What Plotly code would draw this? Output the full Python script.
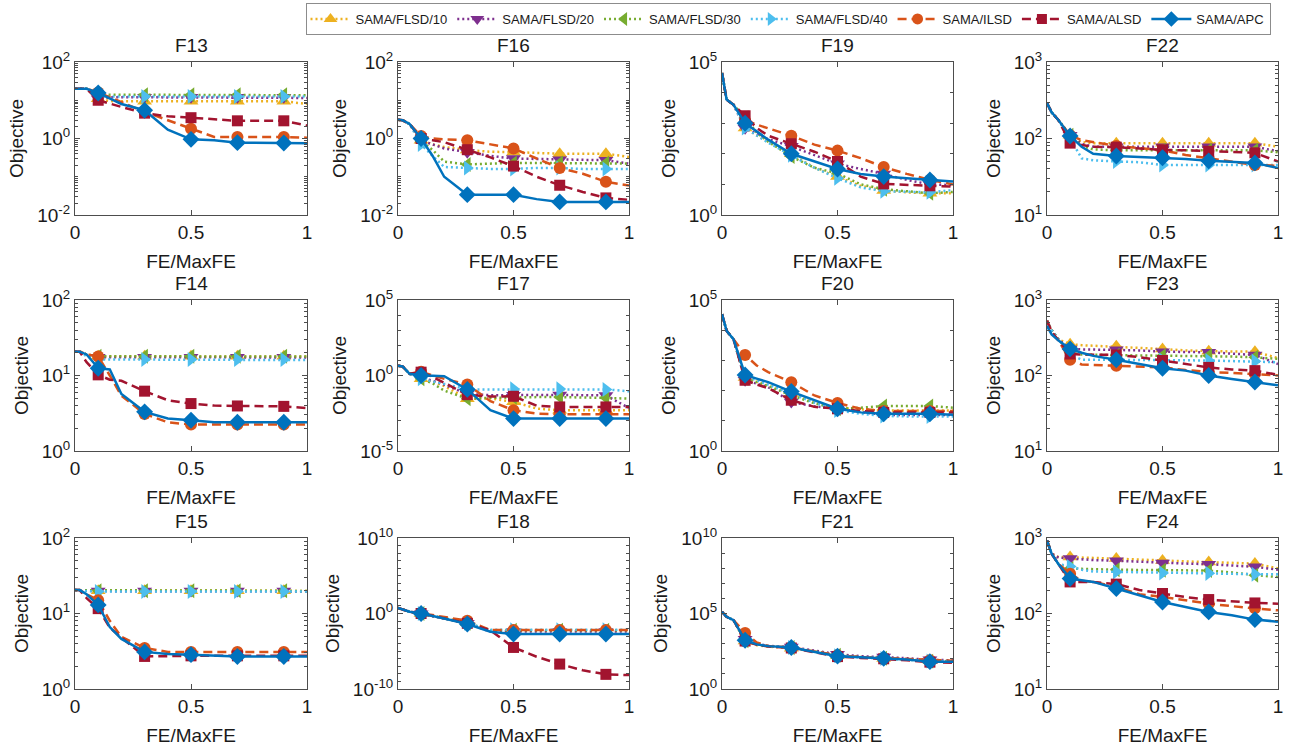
import plotly.graph_objects as go
from plotly.subplots import make_subplots

# ---------------- data ----------------
X = [0, 0.02, 0.05, 0.1, 0.15, 0.2, 0.3, 0.4, 0.5, 0.6, 0.7, 0.8, 0.9, 1.0]
MARKER_X = [0.1, 0.3, 0.5, 0.7, 0.9]

SERIES = ["SAMA/FLSD/10", "SAMA/FLSD/20", "SAMA/FLSD/30", "SAMA/FLSD/40",
          "SAMA/ILSD", "SAMA/ALSD", "SAMA/APC"]
KEYS = ["f10", "f20", "f30", "f40", "ilsd", "alsd", "apc"]

F13 = dict(
    f10=[20, 20, 20, 11, 9.5, 9.4, 9.4, 9.4, 9.4, 9.4, 9.4, 9.4, 9.4, 8],
    f20=[20, 20, 20, 11, 12, 12, 12, 12, 12, 12, 12, 12, 12, 11.5],
    f30=[20, 20, 20, 14, 14, 14, 14, 14, 14, 14, 14, 14, 14, 13.5],
    f40=[20, 20, 20, 12.5, 12.5, 12.5, 12.5, 12.5, 12.5, 12.5, 12.5, 12.5, 12.5, 12.5],
    ilsd=[20, 20, 20, 16, 12, 9, 5, 3, 1.8, 1.1, 1.1, 1.1, 1.1, 1.05],
    alsd=[20, 20, 20, 10, 8, 6.7, 4.6, 3.8, 3.5, 3.2, 2.9, 2.9, 2.9, 2.2],
    apc=[20, 20, 20, 15.5, 11, 8, 5.5, 1.7, 0.95, 0.9, 0.78, 0.78, 0.76, 0.75],
)
F16 = dict(
    f10=[3.1, 3.0, 2.4, 0.9, 0.7, 0.6, 0.5, 0.45, 0.44, 0.42, 0.4, 0.4, 0.4, 0.33],
    f20=[3.1, 3.0, 2.4, 0.9, 0.7, 0.55, 0.44, 0.35, 0.3, 0.29, 0.28, 0.27, 0.27, 0.22],
    f30=[3.1, 3.0, 2.4, 0.85, 0.5, 0.25, 0.21, 0.22, 0.23, 0.23, 0.23, 0.23, 0.23, 0.22],
    f40=[3.1, 3.0, 2.4, 0.7, 0.35, 0.18, 0.17, 0.16, 0.16, 0.17, 0.17, 0.16, 0.16, 0.16],
    ilsd=[3.1, 3.0, 2.4, 1.16, 1.0, 0.95, 0.9, 0.7, 0.55, 0.3, 0.17, 0.12, 0.074, 0.059],
    alsd=[3.1, 3.0, 2.4, 1.0, 0.9, 0.8, 0.51, 0.32, 0.19, 0.1, 0.06, 0.04, 0.028, 0.025],
    apc=[3.1, 3.0, 2.4, 1.0, 0.35, 0.1, 0.034, 0.034, 0.034, 0.026, 0.022, 0.022, 0.022, 0.022],
)
F19 = dict(
    f10=[4.4e4, 5.9e3, 4e3, 700, 400, 250, 100, 35, 18, 9, 6.3, 5.5, 5.1, 5.1],
    f20=[4.4e4, 5.9e3, 4e3, 690, 450, 300, 175, 90, 47, 32, 22, 14, 10, 9.5],
    f30=[4.4e4, 5.9e3, 4e3, 1500, 500, 250, 81, 35, 23, 10, 7, 6, 5.1, 5.7],
    f40=[4.4e4, 5.9e3, 4e3, 700, 400, 230, 90, 35, 16, 8, 6, 5.8, 5.5, 6.5],
    ilsd=[4.4e4, 5.9e3, 4e3, 1230, 900, 690, 390, 200, 127, 72, 37, 22, 14, 10],
    alsd=[4.4e4, 5.9e3, 4e3, 1750, 700, 390, 213, 117, 56, 18, 10.4, 9.5, 9, 8.5],
    apc=[4.4e4, 5.9e3, 4e3, 1000, 540, 290, 100, 56, 32, 22, 18, 16, 14, 12.4],
)
F22 = dict(
    f10=[290, 220, 173, 110, 90, 87, 87, 87, 87, 87, 87, 87, 87, 78],
    f20=[290, 220, 173, 110, 85, 78, 78, 78, 78, 78, 78, 78, 78, 68],
    f30=[290, 220, 173, 110, 80, 72, 70, 70, 70, 70, 70, 70, 70, 66],
    f40=[290, 220, 173, 100, 55, 52, 50, 49, 45, 45, 45, 45, 45, 45],
    ilsd=[290, 220, 173, 110, 95, 90, 80, 75, 70, 61, 55, 50, 45, 44],
    alsd=[290, 220, 173, 87, 82, 78, 77, 74, 71, 70, 68, 66, 65, 50],
    apc=[290, 220, 173, 108, 78, 63, 59, 57, 56, 54, 51, 49, 48, 41],
)
F14 = dict(
    f10=[20.7, 20.7, 19, 18, 18, 18, 18, 18, 18, 18, 18, 18, 18, 17.8],
    f20=[20.7, 20.7, 19, 17.5, 17.5, 17.5, 17.5, 17.5, 17.5, 17.5, 17.5, 17.5, 17.5, 17.3],
    f30=[20.7, 20.7, 19, 18, 18, 18, 18, 18, 18, 18, 18, 18, 18, 17.8],
    f40=[20.7, 20.7, 18, 16.3, 16.3, 16.3, 16.3, 16.3, 16.3, 16.3, 16.3, 16.3, 16.3, 16],
    ilsd=[20.7, 20.7, 19, 17.9, 10, 5.4, 3.1, 2.4, 2.24, 2.24, 2.24, 2.24, 2.24, 2.24],
    alsd=[20.7, 20.7, 15, 10.2, 8.8, 8.5, 6.2, 4.7, 4.25, 4.0, 3.95, 3.9, 3.9, 3.7],
    apc=[20.7, 20.7, 19, 12.5, 12, 5.7, 3.3, 2.7, 2.55, 2.4, 2.4, 2.4, 2.4, 2.4],
)
F17 = dict(
    f10=[4.5, 4.0, 1.3, 0.6, 0.4, 0.2, 0.029, 0.03, 0.018, 6.5e-3, 5e-3, 5e-3, 5e-3, 5e-3],
    f20=[4.5, 4.0, 1.3, 0.7, 0.45, 0.25, 0.06, 0.05, 0.05, 0.052, 0.052, 0.05, 0.048, 7e-3],
    f30=[4.5, 4.0, 1.3, 0.6, 0.3, 0.1, 0.029, 0.033, 0.037, 0.037, 0.037, 0.037, 0.033, 0.029],
    f40=[4.5, 4.0, 1.3, 0.6, 0.4, 0.28, 0.12, 0.12, 0.13, 0.13, 0.13, 0.13, 0.12, 0.09],
    ilsd=[4.5, 4.0, 1.3, 1.8, 1.0, 0.6, 0.25, 0.02, 5e-3, 3e-3, 2.7e-3, 2.7e-3, 2.7e-3, 2.7e-3],
    alsd=[4.5, 4.0, 1.3, 1.66, 0.8, 0.33, 0.054, 0.04, 0.042, 0.01, 8.3e-3, 8.3e-3, 8.3e-3, 8.3e-3],
    apc=[4.5, 4.0, 1.3, 1.0, 0.95, 0.9, 0.12, 5e-3, 1.4e-3, 1.4e-3, 1.4e-3, 1.4e-3, 1.4e-3, 1.4e-3],
)
F20 = dict(
    f10=[3.4e4, 9.5e3, 5e3, 270, 200, 150, 80, 40, 27, 24, 22, 22, 22, 22],
    f20=[3.4e4, 9.5e3, 5e3, 220, 170, 130, 42, 30, 25, 20, 15.5, 15.5, 15.5, 15.5],
    f30=[3.4e4, 9.5e3, 5e3, 250, 190, 140, 70, 38, 25, 27, 31, 31, 31, 27],
    f40=[3.4e4, 9.5e3, 5e3, 300, 220, 160, 80, 40, 22, 17, 14.5, 14, 14, 14],
    ilsd=[3.4e4, 9.5e3, 5e3, 1500, 680, 410, 190, 69, 39, 25, 21, 21, 21, 21],
    alsd=[3.4e4, 9.5e3, 5e3, 220, 160, 120, 48, 29, 25, 21, 19, 19, 19, 19],
    apc=[3.4e4, 9.5e3, 5e3, 330, 250, 190, 93, 48, 25, 19, 17, 17, 17, 16],
)
F23 = dict(
    f10=[530, 400, 300, 260, 252, 248, 244, 236, 224, 215, 210, 208, 207, 170],
    f20=[530, 400, 300, 225, 222, 220, 220, 215, 207, 205, 203, 195, 187, 142],
    f30=[530, 400, 300, 200, 190, 188, 186, 184, 183, 182, 182, 178, 174, 166],
    f40=[530, 400, 300, 190, 162, 162, 162, 161, 160, 159, 158, 156, 155, 150],
    ilsd=[530, 380, 290, 162, 140, 138, 135, 132, 128, 118, 111, 108, 105, 100],
    alsd=[530, 380, 290, 193, 190, 188, 187, 175, 158, 140, 128, 120, 116, 102],
    apc=[455, 350, 290, 225, 200, 182, 162, 142, 125, 116, 100, 90, 82, 74],
)
F15 = dict(
    f10=[20.4, 20.4, 20, 20, 20, 20, 20, 20, 20, 20, 20, 20, 20, 19.8],
    f20=[20.4, 20.4, 20, 19.8, 19.8, 19.8, 19.8, 19.8, 19.8, 19.8, 19.8, 19.8, 19.8, 19.6],
    f30=[20.4, 20.4, 20, 20, 20, 20, 20, 20, 20, 20, 20, 20, 20, 19.8],
    f40=[20.4, 20.4, 19.8, 19.5, 19.5, 19.5, 19.5, 19.5, 19.5, 19.5, 19.5, 19.5, 19.5, 19.5],
    ilsd=[20.4, 20.4, 18, 15, 8, 4.9, 3.5, 3.1, 3.1, 3.1, 3.1, 3.1, 3.1, 3.1],
    alsd=[20.4, 20.4, 16, 11.6, 6.5, 4.8, 2.7, 2.75, 2.75, 2.75, 2.75, 2.75, 2.75, 2.75],
    apc=[20.4, 20.4, 18, 13, 6.6, 4.6, 3.1, 2.9, 2.85, 2.75, 2.7, 2.7, 2.7, 2.7],
)
F18 = dict(
    f10=[5.6, 3.5, 1.7, 1.0, 0.5, 0.22, 0.06, 5e-3, 5e-3, 5e-3, 5e-3, 5e-3, 5e-3, 5e-3],
    f20=[5.6, 3.5, 1.7, 0.9, 0.45, 0.2, 0.05, 4e-3, 4e-3, 4e-3, 4e-3, 4e-3, 4e-3, 4e-3],
    f30=[5.6, 3.5, 1.7, 1.0, 0.5, 0.22, 0.05, 6e-3, 6e-3, 6e-3, 6e-3, 6e-3, 6e-3, 6e-3],
    f40=[5.6, 3.5, 1.7, 1.0, 0.5, 0.2, 0.05, 7e-3, 7e-3, 7e-3, 7e-3, 7e-3, 7e-3, 7e-3],
    ilsd=[5.6, 3.5, 1.7, 1.1, 0.6, 0.3, 0.11, 6.3e-3, 6.3e-3, 6.3e-3, 6.3e-3, 6.3e-3, 6.3e-3, 6.3e-3],
    alsd=[5.6, 3.5, 1.7, 1.0, 0.5, 0.22, 0.05, 6e-3, 3.2e-5, 1.9e-6, 2e-7, 3e-8, 8.7e-9, 7e-9],
    apc=[5.6, 3.5, 1.7, 1.0, 0.5, 0.22, 0.04, 3.8e-3, 1.9e-3, 1.9e-3, 1.9e-3, 1.9e-3, 1.9e-3, 1.9e-3],
)
F21 = dict(
    f10=[1.3e5, 6e4, 3.6e4, 1.5e3, 800, 650, 500, 300, 160, 130, 105, 90, 75, 70],
    f20=[1.3e5, 6e4, 3.6e4, 2e3, 1e3, 720, 600, 330, 200, 150, 130, 110, 85, 80],
    f30=[1.3e5, 6e4, 3.6e4, 1.6e3, 900, 680, 550, 300, 170, 130, 110, 90, 70, 68],
    f40=[1.3e5, 6e4, 3.6e4, 1.8e3, 950, 700, 560, 300, 160, 125, 105, 88, 72, 70],
    ilsd=[1.3e5, 6e4, 3.6e4, 5.2e3, 1.2e3, 700, 560, 320, 170, 130, 110, 95, 80, 75],
    alsd=[1.3e5, 6e4, 3.6e4, 1.5e3, 850, 650, 520, 270, 140, 115, 100, 80, 60, 55],
    apc=[1.3e5, 6e4, 3.6e4, 1.7e3, 900, 690, 560, 290, 150, 125, 107, 90, 65, 65],
)
F24 = dict(
    f10=[930, 620, 560, 560, 550, 545, 535, 520, 505, 490, 480, 470, 458, 395],
    f20=[930, 620, 550, 535, 520, 510, 500, 485, 467, 458, 450, 430, 415, 380],
    f30=[930, 620, 450, 395, 390, 385, 380, 378, 375, 372, 370, 350, 322, 305],
    f40=[930, 620, 450, 420, 380, 360, 356, 350, 345, 342, 340, 335, 330, 330],
    ilsd=[930, 620, 450, 337, 270, 262, 225, 180, 166, 150, 135, 125, 117, 110],
    alsd=[930, 620, 450, 262, 262, 262, 245, 205, 184, 165, 153, 145, 138, 135],
    apc=[930, 620, 450, 290, 275, 262, 214, 175, 142, 122, 105, 95, 83, 78],
)

# panel order (rows x cols) and y-axis labelled decades
PANELS = [["F13", "F16", "F19", "F22"],
          ["F14", "F17", "F20", "F23"],
          ["F15", "F18", "F21", "F24"]]
DATA = {"F13": F13, "F16": F16, "F19": F19, "F22": F22,
        "F14": F14, "F17": F17, "F20": F20, "F23": F23,
        "F15": F15, "F18": F18, "F21": F21, "F24": F24}
Y_DECADES = {"F13": [-2, 0, 2], "F16": [-2, 0, 2], "F19": [0, 5], "F22": [1, 2, 3],
             "F14": [0, 1, 2], "F17": [-5, 0, 5], "F20": [0, 5], "F23": [1, 2, 3],
             "F15": [0, 1, 2], "F18": [-10, 0, 10], "F21": [0, 5, 10], "F24": [1, 2, 3]}
X_TICKS = [0, 0.5, 1]
X_TICKTEXT = ["0", "0.5", "1"]

# ---------------- style ----------------
COLORS = ["#EDB120", "#7E2F8E", "#77AC30", "#4DBEEE", "#D95319", "#A2142F", "#0072BD"]
DASHES = ["2px,3px", "2px,3px", "2px,3px", "2px,3px", "9px,5px", "9px,5px", "solid"]
SYMBOLS = ["triangle-up", "triangle-down", "triangle-left", "triangle-right",
           "circle", "square", "diamond"]
MSIZE = [13, 13, 13, 13, 12, 11, 13]
LW = 2.5

W, H = 1291, 750
COL_PX = [(75, 307), (398, 629), (722, 953), (1047, 1278)]
ROW_PX = [(62, 215), (300, 451), (538, 689)]
FONT = "Liberation Sans, Arial, sans-serif"
AX_COLOR = "#4d4d4d"
TXT = "#1a1a1a"
FS = 19

fig = make_subplots(rows=3, cols=4)

marker_idx = [X.index(m) for m in MARKER_X]

for r in range(3):
    for c in range(4):
        name = PANELS[r][c]
        d = DATA[name]
        for k, key in enumerate(KEYS):
            sizes = [MSIZE[k] if i in marker_idx else 0 for i in range(len(X))]
            fig.add_trace(go.Scatter(
                x=X, y=d[key], mode="lines+markers", name=SERIES[k],
                legendgroup=SERIES[k], showlegend=False,
                line=dict(color=COLORS[k], width=LW, dash=DASHES[k]),
                marker=dict(symbol=SYMBOLS[k], size=sizes, color=COLORS[k],
                            opacity=1, line=dict(width=0)),
                hoverinfo="skip"), row=r + 1, col=c + 1)

# legend entries
for k in range(len(KEYS)):
    fig.add_trace(go.Scatter(
        x=[None], y=[None], mode="lines+markers", name=SERIES[k],
        legendgroup=SERIES[k], showlegend=True,
        line=dict(color=COLORS[k], width=LW, dash=DASHES[k]),
        marker=dict(symbol=SYMBOLS[k], size=MSIZE[k] - 1, color=COLORS[k],
                    opacity=1, line=dict(width=0))),
        row=1, col=1)

annotations = []
for r in range(3):
    for c in range(4):
        name = PANELS[r][c]
        x0, x1 = COL_PX[c]
        y0, y1 = ROW_PX[r]
        xd = [x0 / W, x1 / W]
        yd = [1 - y1 / H, 1 - y0 / H]
        dec = Y_DECADES[name]
        lo, hi = dec[0], dec[-1]
        span = hi - lo
        minor = []
        for e in range(lo, hi + 1):
            if span <= 4:
                if e not in dec:
                    minor.append(10.0 ** e)
                if e < hi:
                    minor += [m * 10.0 ** e for m in range(2, 10)]
            else:
                if e not in dec:
                    minor.append(10.0 ** e)
        fig.update_xaxes(
            row=r + 1, col=c + 1, domain=xd, range=[0, 1], automargin=False,
            tickmode="array", tickvals=X_TICKS, ticktext=X_TICKTEXT,
            ticks="inside", ticklen=5, tickcolor=AX_COLOR,
            showline=True, linecolor=AX_COLOR, linewidth=1, mirror="ticks",
            showgrid=False, zeroline=False,
            tickfont=dict(family=FONT, size=FS, color=TXT),
            title=dict(text="FE/MaxFE", font=dict(family=FONT, size=FS, color=TXT), standoff=12),
        )
        fig.update_yaxes(
            row=r + 1, col=c + 1, domain=yd, type="log", range=[lo, hi], automargin=False,
            tickmode="array", tickvals=[10.0 ** e for e in dec],
            ticktext=["10<sup>%d</sup>" % e for e in dec],
            ticks="inside", ticklen=5, tickcolor=AX_COLOR,
            minor=dict(tickmode="array", tickvals=minor, ticks="inside", ticklen=3,
                       tickcolor=AX_COLOR, showgrid=False),
            showline=True, linecolor=AX_COLOR, linewidth=1, mirror="ticks",
            showgrid=False, zeroline=False,
            tickfont=dict(family=FONT, size=FS, color=TXT),
            title=dict(text="Objective", font=dict(family=FONT, size=FS, color=TXT), standoff=8),
        )
        annotations.append(dict(
            text=name, x=(xd[0] + xd[1]) / 2, y=yd[1], xref="paper", yref="paper",
            xanchor="center", yanchor="bottom", yshift=4, showarrow=False,
            font=dict(family=FONT, size=FS, color=TXT)))

fig.update_layout(
    width=W, height=H, margin=dict(l=0, r=0, t=0, b=0, autoexpand=False),
    paper_bgcolor="white", plot_bgcolor="white",
    annotations=annotations,
    showlegend=True,
    legend=dict(orientation="h", x=(308 + 1268) / 2 / W, xanchor="center",
                y=1 - 3 / H, yanchor="top",
                font=dict(family=FONT, size=13, color=TXT),
                bordercolor="#8c8c8c", borderwidth=1, bgcolor="white",
                itemwidth=40, tracegroupgap=0),
)

fig.write_html("out.html", config={"displayModeBar": False},
               post_script="document.body.style.margin='0px';"
                           "document.body.style.overflow='hidden';")
